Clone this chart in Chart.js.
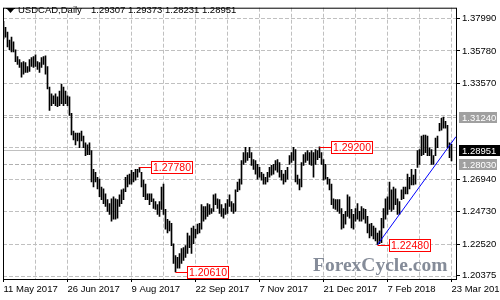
<!DOCTYPE html>
<html>
<head>
<meta charset="utf-8">
<script src="https://cdn.jsdelivr.net/npm/chart.js@4.4.1/dist/chart.umd.min.js"></script>
<style>
  html, body { margin: 0; padding: 0; background: #fff; }
  #c { display: block; }
</style>
</head>
<body>
<canvas id="c" width="500" height="300"></canvas>
<script>
// USDCAD daily, 11 May 2017 .. 23 Mar 2018, one entry per bar
const highs = [
  1.3781,1.3741,1.3707,1.3653,1.3673,1.3640,1.3586,1.3539,1.3519,1.3498,
  1.3505,1.3498,1.3471,1.3519,1.3532,1.3539,1.3552,1.3505,1.3498,1.3532,
  1.3539,1.3545,1.3471,1.3330,1.3283,1.3270,1.3283,1.3263,1.3303,1.3350,
  1.3330,1.3303,1.3270,1.3263,1.3149,1.3028,1.3014,1.3014,1.3014,1.3028,
  1.2994,1.2947,1.2933,1.2947,1.2893,1.2765,1.2745,1.2711,1.2698,1.2644,
  1.2631,1.2597,1.2557,1.2530,1.2563,1.2577,1.2563,1.2557,1.2590,1.2624,
  1.2631,1.2711,1.2725,1.2732,1.2759,1.2745,1.2765,1.2765,1.2778,1.2745,
  1.2691,1.2664,1.2597,1.2597,1.2597,1.2563,1.2543,1.2523,1.2543,1.2644,
  1.2664,1.2490,1.2422,1.2409,1.2395,1.2254,1.2173,1.2160,1.2187,1.2221,
  1.2227,1.2241,1.2328,1.2308,1.2362,1.2375,1.2355,1.2389,1.2395,1.2523,
  1.2510,1.2510,1.2530,1.2523,1.2496,1.2590,1.2597,1.2563,1.2557,1.2523,
  1.2496,1.2530,1.2557,1.2590,1.2543,1.2530,1.2624,1.2678,1.2698,1.2826,
  1.2880,1.2916,1.2880,1.2916,1.2880,1.2832,1.2826,1.2799,1.2779,1.2745,
  1.2732,1.2711,1.2745,1.2779,1.2792,1.2799,1.2826,1.2832,1.2812,1.2759,
  1.2732,1.2759,1.2779,1.2859,1.2880,1.2916,1.2900,1.2725,1.2698,1.2812,
  1.2866,1.2880,1.2893,1.2880,1.2893,1.2880,1.2900,1.2893,1.2920,1.2880,
  1.2832,1.2799,1.2711,1.2698,1.2664,1.2563,1.2557,1.2557,1.2557,1.2496,
  1.2456,1.2476,1.2590,1.2577,1.2490,1.2456,1.2496,1.2530,1.2476,1.2510,
  1.2496,1.2490,1.2442,1.2389,1.2395,1.2375,1.2362,1.2328,1.2342,1.2429,
  1.2496,1.2563,1.2577,1.2678,1.2624,1.2644,1.2631,1.2563,1.2543,1.2624,
  1.2644,1.2644,1.2732,1.2711,1.2765,1.2725,1.2765,1.2893,1.2900,1.2994,
  1.3001,1.3001,1.2994,1.2913,1.2900,1.2859,1.2980,1.2994,1.3081,1.3115,
  1.3124,1.3095,1.3068,1.2947,1.29373
];
const lows = [
  1.3660,1.3673,1.3606,1.3586,1.3572,1.3572,1.3505,1.3485,1.3465,1.3398,
  1.3418,1.3431,1.3431,1.3438,1.3471,1.3465,1.3471,1.3451,1.3431,1.3465,
  1.3485,1.3418,1.3317,1.3169,1.3202,1.3216,1.3202,1.3196,1.3202,1.3216,
  1.3202,1.3216,1.3202,1.3135,1.3001,1.2967,1.2933,1.2960,1.2913,1.2960,
  1.2913,1.2859,1.2866,1.2866,1.2678,1.2644,1.2678,1.2631,1.2577,1.2557,
  1.2530,1.2510,1.2476,1.2456,1.2409,1.2422,1.2422,1.2429,1.2510,1.2530,
  1.2557,1.2611,1.2644,1.2664,1.2664,1.2678,1.2691,1.2711,1.2745,1.2644,
  1.2577,1.2557,1.2557,1.2523,1.2543,1.2496,1.2490,1.2456,1.2442,1.2490,
  1.2456,1.2355,1.2328,1.2342,1.2241,1.2119,1.2061,1.2086,1.2086,1.2119,
  1.2140,1.2160,1.2187,1.2227,1.2187,1.2254,1.2294,1.2321,1.2328,1.2355,
  1.2409,1.2422,1.2442,1.2456,1.2463,1.2476,1.2523,1.2496,1.2463,1.2442,
  1.2429,1.2456,1.2463,1.2510,1.2476,1.2463,1.2476,1.2611,1.2624,1.2664,
  1.2799,1.2812,1.2826,1.2846,1.2792,1.2765,1.2732,1.2698,1.2711,1.2691,
  1.2664,1.2664,1.2678,1.2711,1.2725,1.2732,1.2759,1.2745,1.2711,1.2691,
  1.2664,1.2678,1.2698,1.2799,1.2812,1.2826,1.2678,1.2664,1.2624,1.2644,
  1.2792,1.2812,1.2826,1.2799,1.2792,1.2711,1.2799,1.2832,1.2846,1.2799,
  1.2691,1.2698,1.2664,1.2624,1.2523,1.2496,1.2490,1.2476,1.2463,1.2355,
  1.2362,1.2389,1.2442,1.2429,1.2362,1.2355,1.2409,1.2422,1.2409,1.2409,
  1.2422,1.2395,1.2328,1.2294,1.2308,1.2288,1.2274,1.2248,1.2254,1.2261,
  1.2362,1.2422,1.2456,1.2490,1.2476,1.2490,1.2523,1.2456,1.2456,1.2557,
  1.2563,1.2597,1.2597,1.2631,1.2658,1.2658,1.2664,1.2779,1.2799,1.2859,
  1.2866,1.2880,1.2859,1.2859,1.2799,1.2799,1.2859,1.2913,1.3028,1.3034,
  1.3048,1.3048,1.2913,1.2846,1.28231
];

const dateLabels = ['11 May 2017', '26 Jun 2017', '9 Aug 2017', '22 Sep 2017',
                    '7 Nov 2017', '21 Dec 2017', '7 Feb 2018', '23 Mar 2018'];
const barsPerGrid = 16;

const yTickVals = [1.2031, 1.20375, 1.2252, 1.2473, 1.2694, 1.2915, 1.3136, 1.3357, 1.3578, 1.3799];
const yTickText = ['', '1.20375', '1.22520', '1.24730', '1.26940', '', '', '1.33570', '1.35780', '1.37990'];
const yMin = 1.2012, yMax = 1.3875;

// horizontal levels with their price-scale tags
const levelVals = [1.3124, 1.28951, 1.2803];
const levelText = ['1.31240', '1.28951', '1.28030'];

// swing high / low callouts (bar index, price)
const noteIdx = [68, 86, 158, 187];
const noteVals = [1.2778, 1.2061, 1.2920, 1.2248];
const noteText = ['1.27780', '1.20610', '1.29200', '1.22480'];

// rising trendline from the January low
const trendX = [187, 226.25];
const trendY = [1.2248, 1.2990];

const symbol = 'USDCAD,Daily';
const ohlc = ['1.29307', '1.29373', '1.28231', '1.28951'];

const FONT = '"Liberation Sans", Arial, sans-serif';
Chart.defaults.font.family = FONT;
Chart.defaults.font.size = 9.5;
Chart.defaults.color = '#000';

const xTicks = [];
for (let i = 0; i <= 224; i += barsPerGrid) xTicks.push(i);

const decor = {
    id: 'decor',
    beforeDatasetsDraw(chart) {
        const { ctx, chartArea: a, scales: { y } } = chart;
        ctx.save();
        ctx.lineWidth = 1;
        levelVals.forEach((v, i) => {
            const py = Math.round(y.getPixelForValue(v)) + 0.5;
            ctx.strokeStyle = i === 1 ? '#c0c0c0' : '#b0b0b0';
            ctx.setLineDash(i === 1 ? [] : [4, 2]);
            ctx.beginPath();
            ctx.moveTo(a.left, py);
            ctx.lineTo(a.right, py);
            ctx.stroke();
        });
        ctx.restore();
    },
    afterDraw(chart) {
        const { ctx, chartArea: a, scales: { x, y } } = chart;
        ctx.save();

        // swing callouts
        ctx.font = '10.5px ' + FONT;
        ctx.textAlign = 'center';
        ctx.textBaseline = 'middle';
        noteIdx.forEach((idx, i) => {
            const bx = Math.round(x.getPixelForValue(idx));
            const py = Math.round(y.getPixelForValue(noteVals[i]));
            const left = bx + 11, top = py - 6;
            ctx.strokeStyle = '#ff0000';
            ctx.lineWidth = 1;
            ctx.beginPath();
            ctx.moveTo(bx - 0.5, py + 0.5);
            ctx.lineTo(left, py + 0.5);
            ctx.stroke();
            ctx.fillStyle = '#fff';
            ctx.fillRect(left, top, 41, 12);
            ctx.strokeRect(left + 0.5, top + 0.5, 41, 12);
            ctx.fillStyle = '#ff0000';
            ctx.fillText(noteText[i], left + 21, top + 7);
        });

        // frame
        ctx.strokeStyle = '#000';
        ctx.lineWidth = 1;
        ctx.setLineDash([]);
        ctx.strokeRect(a.left + 0.5, a.top + 0.5, a.right - a.left, a.bottom - a.top);

        // price tags on the right scale
        ctx.font = '9.5px ' + FONT;
        ctx.textAlign = 'left';
        levelVals.forEach((v, i) => {
            const py = Math.round(y.getPixelForValue(v));
            ctx.fillStyle = i === 1 ? '#000' : '#a0a0a0';
            ctx.fillRect(a.right + 3, py - 5, i === 1 ? 44 : 38, 11);
            ctx.fillStyle = '#fff';
            ctx.fillText(levelText[i], a.right + 6, py + 1);
        });

        // header
        ctx.fillStyle = '#000';
        ctx.beginPath();
        ctx.moveTo(7, 9); ctx.lineTo(14, 9); ctx.lineTo(10.5, 13); ctx.closePath();
        ctx.fill();
        ctx.fillRect(6, 8, 9, 1);
        ctx.textBaseline = 'alphabetic';
        ctx.fillText(symbol, 18, 13);
        ctx.fillText(ohlc.join(' '), 91, 13);

        // watermark
        ctx.font = 'bold 19.5px "Liberation Serif", serif';
        ctx.fillStyle = '#858c99';
        ctx.fillText('ForexCycle.com', 313, 270.5);
        ctx.restore();
    }
};

new Chart(document.getElementById('c'), {
    type: 'bar',
    data: {
        datasets: [{
            type: 'bar',
            data: highs.map((h, i) => ({ x: i, y: [lows[i], h] })),
            backgroundColor: '#000',
            borderWidth: 0,
            barThickness: 1,
            order: 2
        }, {
            type: 'line',
            data: trendX.map((v, i) => ({ x: v, y: trendY[i] })),
            borderColor: '#0000ff',
            borderWidth: 1,
            pointRadius: 0,
            fill: false,
            order: 1
        }]
    },
    options: {
        responsive: false,
        animation: false,
        devicePixelRatio: 1,
        layout: { padding: { left: 3, top: 2, right: 0, bottom: 0 } },
        plugins: { legend: { display: false }, tooltip: { enabled: false } },
        scales: {
            x: {
                type: 'linear',
                min: -0.25,
                max: 226.25,
                offset: false,
                afterBuildTicks: s => { s.ticks = xTicks.map(v => ({ value: v })); },
                afterFit: s => { s.height = 21; s.paddingLeft = 0; s.paddingRight = 0; },
                border: { display: false, dash: [4, 2] },
                grid: {
                    offset: false,
                    color: '#c0c0c0',
                    tickColor: c => (c.index % 2 === 0 ? '#000' : 'rgba(0,0,0,0)'),
                    tickLength: 3
                },
                ticks: {
                    autoSkip: false,
                    maxRotation: 0,
                    minRotation: 0,
                    align: 'start',
                    padding: 2,
                    callback: (v, i) => (i % 2 === 0 ? dateLabels[i / 2] : '')
                }
            },
            y: {
                position: 'right',
                min: yMin,
                max: yMax,
                afterBuildTicks: s => { s.ticks = yTickVals.map(v => ({ value: v })); },
                afterFit: s => { s.width = 44; },
                border: { display: false, dash: [4, 2] },
                grid: {
                    color: c => (c.index === 1 ? 'rgba(0,0,0,0)' : '#c0c0c0'),
                    tickColor: c => (yTickText[c.index] ? '#000' : 'rgba(0,0,0,0)'),
                    tickLength: 4
                },
                ticks: {
                    autoSkip: false,
                    padding: 2,
                    callback: (v, i) => yTickText[i]
                }
            }
        }
    },
    plugins: [decor]
});
</script>
</body>
</html>
